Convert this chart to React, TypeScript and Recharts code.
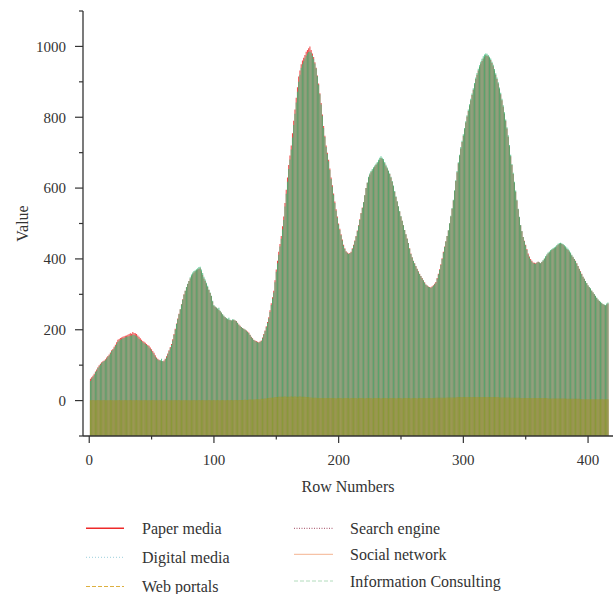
import React from 'react';
import { ComposedChart, Bar, XAxis, YAxis, Label } from 'recharts';

// ---------- data (rows 1..416) ----------
const PAPER_MEDIA = [
  62, 66, 70, 76, 82, 88, 94, 100, 104, 108,
  111, 113, 117, 122, 126, 130, 136, 142, 146, 152,
  158, 165, 172, 174, 177, 178, 180, 182, 183, 184,
  186, 188, 190, 189, 194, 191, 190, 188, 184, 180,
  176, 172, 168, 166, 163, 160, 157, 155, 150, 145,
  140, 135, 128, 122, 118, 115, 113, 112, 111, 113,
  118, 125, 133, 142, 151, 160, 173, 188, 203, 218,
  232, 245, 258, 272, 286, 300, 310, 320, 329, 338,
  345, 352, 357, 362, 365, 368, 370, 372, 374, 365,
  355, 345, 338, 330, 321, 312, 304, 295, 280, 268,
  265, 262, 259, 256, 252, 248, 243, 238, 235, 232,
  230, 228, 227, 226, 227, 228, 226, 225, 220, 215,
  211, 208, 205, 203, 200, 198, 195, 192, 186, 180,
  176, 172, 170, 168, 166, 165, 167, 170, 178, 188,
  198, 210, 222, 235, 255, 275, 292, 310, 340, 370,
  395, 420, 442, 465, 492, 520, 558, 595, 630, 665,
  692, 720, 755, 790, 822, 855, 885, 915, 932, 950,
  960, 968, 976, 985, 990, 995, 1000, 990, 980, 970,
  955, 940, 918, 895, 868, 840, 808, 775, 748, 720,
  700, 680, 655, 630, 608, 585, 562, 540, 520, 500,
  485, 470, 455, 440, 430, 422, 418, 415, 417, 420,
  430, 440, 452, 465, 480, 495, 512, 530, 545, 560,
  580, 600, 615, 630, 638, 645, 650, 655, 660, 665,
  670, 675, 680, 685, 682, 678, 670, 662, 655, 648,
  640, 630, 618, 605, 590, 575, 562, 548, 534, 520,
  508, 495, 482, 470, 458, 445, 430, 415, 405, 395,
  388, 380, 372, 365, 358, 352, 346, 340, 334, 328,
  325, 322, 321, 320, 323, 326, 330, 335, 346, 358,
  371, 385, 402, 420, 435, 450, 465, 480, 500, 520,
  542, 565, 592, 620, 645, 670, 691, 712, 730, 748,
  766, 785, 802, 818, 833, 848, 863, 878, 893, 908,
  920, 932, 942, 952, 959, 966, 971, 975, 974, 972,
  967, 962, 953, 944, 932, 920, 908, 895, 880, 865,
  848, 830, 810, 790, 768, 745, 718, 690, 665, 640,
  615, 590, 565, 540, 518, 495, 478, 462, 451, 440,
  428, 415, 407, 400, 395, 390, 389, 388, 390, 392,
  390, 388, 391, 395, 400, 405, 410, 415, 418, 422,
  425, 428, 430, 432, 436, 440, 442, 444, 442, 440,
  436, 432, 428, 425, 420, 415, 410, 405, 400, 395,
  388, 380, 372, 365, 358, 350, 344, 338, 331, 325,
  320, 316, 310, 305, 300, 295, 290, 285, 281, 278,
  275, 272, 270, 268, 271, 274,
];

const INFORMATION_CONSULTING = [
  55, 62, 66, 72, 80, 84, 92, 97, 101, 106,
  109, 112, 114, 118, 124, 127, 133, 140, 143, 148,
  154, 160, 166, 170, 172, 174, 176, 177, 179, 180,
  181, 182, 184, 183, 186, 185, 184, 182, 178, 174,
  171, 168, 165, 162, 160, 157, 154, 150, 146, 141,
  136, 130, 124, 119, 116, 113, 114, 118, 112, 110,
  116, 122, 130, 139, 148, 157, 170, 185, 200, 216,
  230, 244, 258, 271, 285, 299, 310, 321, 330, 338,
  348, 356, 362, 366, 368, 371, 374, 377, 378, 370,
  360, 350, 342, 333, 324, 314, 305, 296, 282, 270,
  266, 263, 260, 262, 254, 249, 244, 240, 236, 233,
  231, 234, 228, 226, 230, 229, 226, 224, 219, 214,
  210, 208, 204, 203, 201, 197, 194, 190, 185, 179,
  175, 171, 168, 166, 165, 163, 165, 168, 176, 186,
  196, 207, 219, 232, 250, 270, 288, 305, 334, 364,
  388, 412, 435, 457, 484, 510, 548, 584, 618, 654,
  681, 709, 743, 778, 810, 842, 872, 900, 920, 940,
  950, 958, 966, 974, 980, 984, 986, 982, 974, 965,
  952, 938, 916, 892, 865, 836, 804, 770, 744, 716,
  696, 676, 651, 626, 604, 581, 558, 536, 516, 497,
  482, 467, 452, 437, 428, 420, 416, 414, 415, 418,
  428, 438, 450, 463, 478, 494, 510, 528, 544, 560,
  580, 600, 616, 632, 641, 648, 654, 659, 664, 669,
  674, 680, 686, 690, 686, 682, 674, 666, 658, 650,
  642, 632, 620, 607, 592, 577, 563, 549, 535, 521,
  508, 495, 482, 470, 457, 444, 429, 414, 404, 394,
  387, 379, 371, 364, 357, 351, 345, 339, 333, 327,
  324, 321, 320, 318, 321, 324, 328, 333, 344, 356,
  369, 383, 400, 418, 434, 449, 465, 481, 501, 522,
  544, 567, 594, 622, 648, 673, 694, 716, 734, 752,
  770, 789, 806, 822, 837, 852, 867, 882, 897, 912,
  925, 937, 947, 957, 965, 972, 977, 980, 979, 976,
  971, 966, 957, 948, 936, 924, 912, 899, 884, 869,
  852, 834, 814, 794, 772, 749, 722, 694, 668, 643,
  618, 593, 567, 542, 519, 496, 479, 462, 450, 438,
  425, 412, 404, 397, 392, 388, 387, 386, 389, 392,
  390, 388, 392, 397, 402, 408, 413, 418, 421, 425,
  428, 431, 433, 435, 439, 443, 445, 446, 444, 442,
  439, 436, 432, 429, 424, 418, 412, 406, 400, 394,
  387, 379, 371, 364, 357, 350, 344, 338, 332, 326,
  321, 317, 311, 306, 301, 296, 291, 286, 282, 279,
  276, 273, 271, 270, 274, 277,
];

const WEB_PORTALS = [
  1, 1, 2, 1, 1, 1, 2, 1, 1, 1,
  1, 2, 1, 1, 1, 1, 2, 1, 1, 1,
  1, 1, 1, 2, 1, 1, 1, 1, 2, 1,
  1, 1, 2, 1, 1, 1, 1, 2, 1, 1,
  1, 1, 1, 1, 2, 1, 1, 1, 1, 1,
  2, 1, 1, 1, 1, 1, 2, 1, 1, 1,
  1, 1, 2, 1, 1, 1, 1, 1, 2, 1,
  1, 2, 1, 1, 1, 1, 2, 1, 1, 1,
  1, 1, 1, 2, 1, 1, 1, 2, 1, 1,
  2, 1, 1, 1, 1, 2, 1, 1, 1, 2,
  1, 1, 2, 1, 1, 1, 2, 1, 1, 1,
  2, 1, 1, 2, 1, 1, 2, 2, 1, 2,
  2, 2, 2, 2, 3, 2, 2, 3, 3, 3,
  3, 3, 3, 4, 4, 4, 4, 5, 5, 5,
  6, 6, 7, 7, 8, 8, 9, 9, 10, 10,
  10, 11, 11, 11, 11, 11, 12, 11, 11, 11,
  11, 12, 11, 11, 12, 11, 11, 11, 12, 11,
  11, 11, 11, 10, 10, 10, 9, 9, 8, 8,
  8, 8, 7, 7, 7, 7, 7, 7, 7, 7,
  7, 7, 7, 7, 7, 7, 7, 6, 7, 7,
  7, 7, 6, 7, 7, 7, 7, 7, 6, 7,
  7, 7, 7, 7, 6, 7, 7, 7, 7, 7,
  6, 7, 7, 7, 7, 7, 6, 7, 7, 7,
  7, 7, 7, 6, 7, 7, 7, 7, 7, 6,
  7, 7, 7, 7, 7, 6, 7, 7, 7, 7,
  6, 7, 7, 7, 7, 7, 7, 6, 7, 7,
  7, 7, 6, 7, 7, 7, 7, 7, 7, 7,
  7, 7, 7, 7, 7, 7, 7, 8, 8, 8,
  8, 8, 8, 8, 8, 8, 9, 9, 9, 9,
  9, 9, 9, 9, 10, 10, 10, 10, 10, 10,
  10, 10, 10, 10, 10, 10, 10, 10, 10, 10,
  10, 10, 10, 10, 10, 10, 10, 10, 10, 10,
  10, 10, 10, 10, 10, 10, 10, 10, 9, 9,
  9, 9, 9, 9, 9, 9, 9, 8, 8, 8,
  8, 8, 8, 8, 8, 7, 7, 7, 7, 7,
  7, 7, 7, 7, 7, 7, 7, 7, 7, 7,
  7, 7, 7, 7, 7, 7, 7, 6, 6, 6,
  6, 6, 6, 6, 6, 6, 6, 6, 6, 6,
  6, 6, 5, 5, 5, 5, 5, 5, 5, 5,
  5, 5, 5, 4, 4, 4, 4, 4, 4, 4,
  4, 4, 4, 4, 4, 4, 4, 4, 4, 4,
  4, 4, 4, 4, 4, 4,
];

const SOCIAL_NETWORK = [
  1, 1, 1, 1, 1, 1, 1, 1, 1, 1,
  1, 1, 1, 1, 1, 1, 1, 1, 1, 1,
  1, 1, 1, 1, 1, 1, 1, 1, 1, 1,
  1, 1, 1, 1, 1, 1, 1, 1, 1, 1,
  1, 1, 1, 1, 1, 1, 1, 1, 1, 1,
  1, 1, 1, 1, 1, 1, 1, 1, 1, 1,
  1, 1, 1, 1, 1, 1, 1, 1, 1, 1,
  1, 1, 1, 1, 1, 1, 1, 1, 1, 1,
  1, 1, 1, 1, 1, 1, 1, 1, 1, 1,
  1, 1, 1, 1, 1, 1, 1, 1, 1, 1,
  1, 1, 1, 1, 1, 1, 1, 1, 1, 1,
  1, 1, 1, 1, 1, 1, 1, 1, 1, 1,
  1, 1, 2, 2, 2, 2, 2, 2, 3, 3,
  3, 3, 3, 3, 4, 4, 4, 4, 4, 5,
  5, 5, 6, 6, 7, 7, 7, 8, 8, 8,
  8, 9, 9, 9, 9, 9, 9, 9, 9, 9,
  9, 9, 9, 9, 9, 9, 9, 9, 9, 9,
  9, 9, 9, 8, 8, 8, 7, 7, 7, 6,
  6, 6, 6, 6, 6, 6, 6, 6, 6, 6,
  6, 6, 6, 6, 6, 6, 6, 6, 6, 6,
  6, 6, 6, 6, 6, 6, 6, 6, 6, 6,
  6, 6, 6, 6, 6, 6, 6, 6, 6, 6,
  6, 6, 6, 6, 6, 6, 6, 6, 6, 6,
  6, 6, 6, 6, 6, 6, 6, 6, 6, 6,
  6, 6, 6, 6, 6, 6, 6, 6, 6, 6,
  6, 6, 6, 6, 6, 6, 6, 6, 6, 6,
  6, 6, 6, 6, 6, 6, 6, 6, 6, 6,
  6, 6, 6, 6, 6, 6, 6, 6, 6, 6,
  6, 6, 6, 7, 7, 7, 7, 7, 7, 7,
  7, 7, 7, 8, 8, 8, 8, 8, 8, 8,
  8, 8, 8, 8, 8, 8, 8, 8, 8, 8,
  8, 8, 8, 8, 8, 8, 8, 8, 8, 8,
  8, 8, 8, 8, 8, 8, 8, 8, 8, 8,
  8, 8, 7, 7, 7, 7, 7, 7, 7, 6,
  6, 6, 6, 6, 6, 6, 6, 6, 6, 6,
  6, 6, 6, 6, 6, 6, 6, 6, 6, 6,
  6, 6, 6, 6, 5, 5, 5, 5, 5, 5,
  5, 5, 5, 5, 5, 5, 5, 5, 5, 5,
  5, 4, 4, 4, 4, 4, 4, 4, 4, 4,
  4, 4, 4, 4, 3, 3, 3, 3, 3, 3,
  3, 3, 3, 3, 3, 3, 3, 3, 3, 3,
  3, 3, 3, 3, 3, 3,
];

const DIGITAL_MEDIA = [
  0, 0, 0, 0, 0, 0, 0, 0, 0, 0,
  0, 0, 0, 0, 0, 0, 0, 0, 0, 0,
  0, 0, 0, 0, 0, 0, 0, 0, 0, 0,
  0, 0, 0, 0, 0, 0, 0, 0, 0, 0,
  0, 0, 0, 0, 0, 0, 0, 0, 0, 0,
  0, 0, 0, 0, 0, 0, 0, 0, 0, 0,
  0, 0, 0, 0, 0, 0, 0, 0, 0, 0,
  0, 0, 0, 0, 0, 0, 0, 0, 0, 0,
  0, 0, 0, 0, 0, 0, 0, 0, 0, 0,
  0, 0, 0, 0, 0, 0, 0, 0, 0, 0,
  0, 0, 0, 0, 0, 0, 0, 0, 0, 0,
  0, 0, 0, 0, 0, 0, 0, 0, 0, 0,
  0, 0, 0, 0, 0, 0, 0, 0, 0, 0,
  0, 1, 1, 1, 1, 1, 2, 2, 2, 2,
  3, 3, 3, 4, 4, 4, 5, 5, 5, 6,
  6, 6, 7, 7, 7, 7, 7, 7, 7, 7,
  7, 7, 7, 7, 7, 7, 7, 7, 7, 7,
  7, 7, 7, 7, 6, 6, 6, 6, 5, 5,
  5, 5, 5, 5, 5, 5, 5, 5, 5, 5,
  5, 5, 5, 5, 5, 5, 5, 5, 5, 5,
  5, 5, 5, 5, 5, 5, 5, 5, 5, 5,
  5, 5, 5, 5, 5, 5, 5, 5, 5, 5,
  5, 5, 5, 5, 5, 5, 5, 5, 5, 5,
  5, 5, 5, 5, 5, 5, 5, 5, 5, 5,
  5, 5, 5, 5, 5, 5, 5, 5, 5, 5,
  5, 5, 5, 5, 5, 5, 5, 5, 5, 5,
  5, 5, 5, 5, 5, 5, 5, 5, 5, 5,
  5, 5, 5, 5, 5, 5, 5, 5, 5, 5,
  5, 5, 5, 5, 5, 5, 5, 5, 5, 5,
  5, 5, 5, 6, 6, 6, 6, 6, 6, 6,
  6, 6, 6, 6, 6, 6, 6, 6, 6, 6,
  6, 6, 6, 6, 6, 6, 6, 6, 6, 6,
  6, 6, 6, 6, 6, 6, 6, 6, 6, 6,
  6, 6, 6, 6, 6, 6, 5, 5, 5, 5,
  5, 5, 5, 5, 5, 5, 5, 5, 5, 5,
  5, 5, 5, 5, 5, 5, 5, 5, 5, 5,
  5, 5, 5, 5, 5, 5, 5, 5, 5, 5,
  5, 5, 5, 5, 4, 4, 4, 4, 4, 4,
  4, 4, 4, 4, 4, 4, 4, 4, 4, 3,
  3, 3, 3, 3, 3, 3, 3, 3, 3, 3,
  3, 3, 3, 3, 3, 2, 2, 2, 2, 2,
  2, 2, 2, 2, 2, 2,
];

const SEARCH_ENGINE = [
  0, 0, 0, 0, 0, 0, 0, 0, 0, 0,
  0, 0, 0, 0, 0, 0, 0, 0, 0, 0,
  0, 0, 0, 0, 0, 0, 0, 0, 0, 0,
  0, 0, 0, 0, 0, 0, 0, 0, 0, 0,
  0, 0, 0, 0, 0, 0, 0, 0, 0, 0,
  0, 0, 0, 0, 0, 0, 0, 0, 0, 0,
  0, 0, 0, 0, 0, 0, 0, 0, 0, 0,
  0, 0, 0, 0, 0, 0, 0, 0, 0, 0,
  0, 0, 0, 0, 0, 0, 0, 0, 0, 0,
  0, 0, 0, 0, 0, 0, 0, 0, 0, 0,
  0, 0, 0, 0, 0, 0, 0, 0, 0, 0,
  0, 0, 0, 0, 0, 0, 0, 0, 0, 0,
  0, 0, 0, 0, 0, 0, 0, 0, 0, 0,
  0, 0, 0, 0, 0, 0, 0, 0, 0, 0,
  1, 1, 2, 2, 2, 3, 3, 3, 4, 4,
  4, 4, 5, 5, 5, 5, 5, 5, 5, 5,
  5, 5, 5, 5, 5, 5, 5, 5, 5, 5,
  5, 5, 5, 5, 5, 5, 4, 4, 4, 4,
  4, 4, 4, 4, 4, 4, 4, 4, 4, 4,
  4, 4, 4, 4, 4, 4, 4, 4, 4, 4,
  4, 4, 4, 4, 4, 4, 4, 4, 4, 4,
  4, 4, 4, 4, 4, 4, 4, 4, 4, 4,
  4, 4, 4, 4, 4, 4, 4, 4, 4, 4,
  4, 4, 4, 4, 4, 4, 4, 4, 4, 4,
  4, 4, 4, 4, 4, 4, 4, 4, 4, 4,
  4, 4, 4, 4, 4, 4, 4, 4, 4, 4,
  4, 4, 4, 4, 4, 4, 4, 4, 4, 4,
  4, 4, 4, 4, 4, 4, 4, 4, 4, 4,
  4, 4, 4, 4, 4, 4, 4, 4, 4, 4,
  4, 4, 5, 5, 5, 5, 5, 5, 5, 5,
  5, 5, 5, 5, 5, 5, 5, 5, 5, 5,
  5, 5, 5, 5, 5, 5, 5, 5, 5, 5,
  5, 5, 5, 5, 5, 5, 5, 5, 5, 5,
  5, 5, 5, 5, 5, 4, 4, 4, 4, 4,
  4, 4, 4, 4, 4, 4, 4, 4, 4, 4,
  4, 4, 4, 4, 4, 4, 4, 4, 4, 4,
  4, 4, 4, 4, 4, 4, 4, 4, 4, 4,
  4, 4, 4, 4, 3, 3, 3, 3, 3, 3,
  3, 3, 3, 3, 3, 3, 3, 3, 3, 3,
  3, 3, 3, 3, 3, 2, 2, 2, 2, 2,
  2, 2, 2, 2, 2, 2, 2, 2, 2, 2,
  2, 2, 2, 2, 2, 2,
];

const X_TICKS = [0, 50, 100, 150, 200, 250, 300, 350, 400];
const Y_TICKS = [-100, 0, 100, 200, 300, 400, 500, 600, 700, 800, 900, 1000, 1100];
const X_DOMAIN: [number, number] = [-5, 420];
const Y_DOMAIN: [number, number] = [-100, 1100];
const BASELINE = Y_DOMAIN[0];

const data = PAPER_MEDIA.map((v, i) => ({
  row: i + 1,
  paper: v,
  digital: DIGITAL_MEDIA[i],
  web: WEB_PORTALS[i],
  search: SEARCH_ENGINE[i],
  social: SOCIAL_NETWORK[i],
  info: INFORMATION_CONSULTING[i],
}));

// draw order: bottom -> top
const BAR_SERIES = [
  { key: 'paper', fill: '#ec1e1e', opacity: 0.85 },
  { key: 'info', fill: '#34bb78', opacity: 0.8 },
  { key: 'search', fill: '#a0404a', opacity: 0.08 },
  { key: 'digital', fill: '#9ecae1', opacity: 0.08 },
  { key: 'social', fill: '#f4a582', opacity: 0.08 },
  { key: 'web', fill: '#aa9600', opacity: 0.5 },
];

const LEGEND_COLS = [
  [
    { name: 'Paper media', stroke: '#ee2a2a', width: 1.6, dash: undefined as string | undefined },
    { name: 'Digital media', stroke: '#9ccfdc', width: 1, dash: '1 2' },
    { name: 'Web portals', stroke: '#ddb040', width: 1, dash: '4 2' },
  ],
  [
    { name: 'Search engine', stroke: '#a04860', width: 1, dash: '1 1.5' },
    { name: 'Social network', stroke: '#f6c2a6', width: 1.2, dash: undefined as string | undefined },
    { name: 'Information Consulting', stroke: '#b2dcbc', width: 1, dash: '4 2' },
  ],
];

const FONT = '"Liberation Serif", "Times New Roman", serif';
const AXIS_COLOR = '#333';
const Y_TICK_SIZE = 8;
const Y_TICK_MARGIN = 9;
const X_TICK_SIZE = 7;
const X_TICK_MARGIN = 11;

const YTick = (props: any) => {
  const { x, y, payload } = props;
  const v = payload.value;
  const major = v % 200 === 0;
  const ax = x + Y_TICK_SIZE + Y_TICK_MARGIN;
  return (
    <g>
      <line x1={ax - (major ? 8 : 4)} x2={ax} y1={y} y2={y} stroke={AXIS_COLOR} strokeWidth={1.2} />
      {major && (
        <text x={x} y={y} dy="0.35em" textAnchor="end" fontFamily={FONT} fontSize={15} fill="#333">
          {v}
        </text>
      )}
    </g>
  );
};

const XTick = (props: any) => {
  const { x, y, payload } = props;
  const v = payload.value;
  const major = v % 100 === 0;
  const ay = y - X_TICK_SIZE - X_TICK_MARGIN;
  return (
    <g>
      <line x1={x} x2={x} y1={ay} y2={ay + (major ? 7 : 3.5)} stroke={AXIS_COLOR} strokeWidth={1.2} />
      {major && (
        <text x={x} y={y} dy="0.71em" textAnchor="middle" fontFamily={FONT} fontSize={15} fill="#333">
          {v}
        </text>
      )}
    </g>
  );
};

const LegendBlock = () => {
  const colX = [{ l1: 86, l2: 124, t: 142 }, { l1: 294, l2: 333, t: 350 }];
  const rowsY = [[528.3, 557.3, 586.5], [528.3, 554.3, 581]];
  return (
    <svg width={615} height={594} style={{ position: 'absolute', left: 0, top: 0, pointerEvents: 'none' }}>
      {LEGEND_COLS.map((col, ci) =>
        col.map((item, ri) => {
          const y = rowsY[ci][ri];
          return (
            <g key={item.name}>
              <line
                x1={colX[ci].l1}
                x2={colX[ci].l2}
                y1={y}
                y2={y}
                stroke={item.stroke}
                strokeWidth={item.width}
                strokeDasharray={item.dash}
              />
              <text x={colX[ci].t} y={y + 5.5} fontFamily={FONT} fontSize={16} fill="#333">
                {item.name}
              </text>
            </g>
          );
        })
      )}
    </svg>
  );
};

export default function App() {
  return (
    <div style={{ position: 'absolute', left: 0, top: 0, width: 615, height: 594, background: '#fff' }}>
      <ComposedChart
        width={615}
        height={594}
        data={data}
        margin={{ top: 11, right: 2, left: 0, bottom: 98 }}
        barCategoryGap="6%"
      >
        <XAxis
          xAxisId="paper"
          dataKey="row"
          type="number"
          domain={X_DOMAIN}
          allowDataOverflow
          ticks={X_TICKS}
          height={60}
          axisLine={{ stroke: AXIS_COLOR, strokeWidth: 1.3 }}
          tickLine={false}
          tickSize={X_TICK_SIZE}
          tickMargin={X_TICK_MARGIN}
          tick={<XTick />}
          interval={0}
        >
          <Label
            value="Row Numbers"
            position="insideBottom"
            offset={4}
            style={{ fontFamily: FONT, fontSize: 16, fill: '#333' }}
          />
        </XAxis>
        {BAR_SERIES.slice(1).map((s) => (
          <XAxis
            key={'ax' + s.key}
            xAxisId={s.key}
            dataKey="row"
            type="number"
            domain={X_DOMAIN}
            allowDataOverflow
            orientation="top"
            height={0}
            hide
          />
        ))}
        <YAxis
          type="number"
          domain={Y_DOMAIN}
          allowDataOverflow
          ticks={Y_TICKS}
          width={83}
          axisLine={{ stroke: AXIS_COLOR, strokeWidth: 1.3 }}
          tickLine={false}
          tickSize={Y_TICK_SIZE}
          tickMargin={Y_TICK_MARGIN}
          tick={<YTick />}
          interval={0}
        >
          <Label
            content={(p: any) => {
              const vb = p.viewBox || { x: 0, y: 11, width: 83, height: 425 };
              const cx = vb.x + 28;
              const cy = vb.y + vb.height / 2;
              return (
                <text
                  x={cx}
                  y={cy}
                  transform={`rotate(-90, ${cx}, ${cy})`}
                  textAnchor="middle"
                  fontFamily={FONT}
                  fontSize={16}
                  fill="#333"
                >
                  Value
                </text>
              );
            }}
          />
        </YAxis>
        {BAR_SERIES.map((s) => (
          <Bar
            key={s.key}
            xAxisId={s.key}
            dataKey={(d: any) => [BASELINE, d[s.key]]}
            name={s.key}
            fill={s.fill}
            fillOpacity={s.opacity}
            isAnimationActive={false}
          />
        ))}
      </ComposedChart>
      <LegendBlock />
    </div>
  );
}
